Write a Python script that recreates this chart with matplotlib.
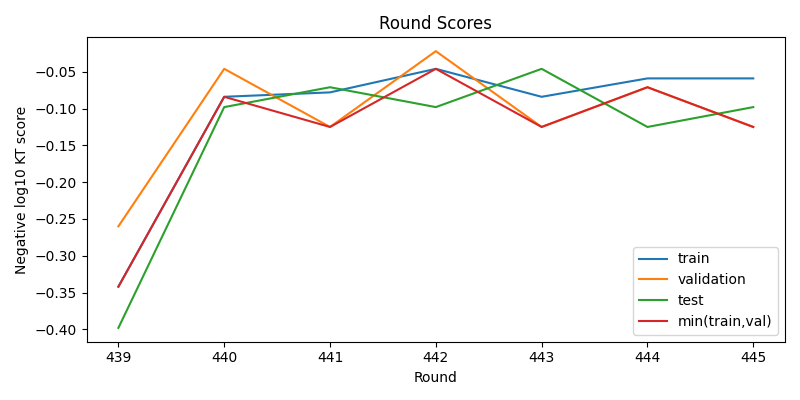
import matplotlib
matplotlib.use('Agg')
import matplotlib.pyplot as plt

rounds = [439, 440, 441, 442, 443, 444, 445]
train = [-0.342, -0.084, -0.078, -0.046, -0.084, -0.059, -0.059]
validation = [-0.260, -0.046, -0.125, -0.022, -0.125, -0.071, -0.125]
test = [-0.398, -0.098, -0.071, -0.098, -0.046, -0.125, -0.098]
min_train_val = [min(a, b) for a, b in zip(train, validation)]

fig, ax = plt.subplots(figsize=(8, 4), dpi=100)
ax.plot(rounds, train, label='train')
ax.plot(rounds, validation, label='validation')
ax.plot(rounds, test, label='test')
ax.plot(rounds, min_train_val, label='min(train,val)')
ax.set_title('Round Scores')
ax.set_xlabel('Round')
ax.set_ylabel('Negative log10 KT score')
ax.legend(loc='lower right')
plt.tight_layout()
plt.savefig('out.png')
